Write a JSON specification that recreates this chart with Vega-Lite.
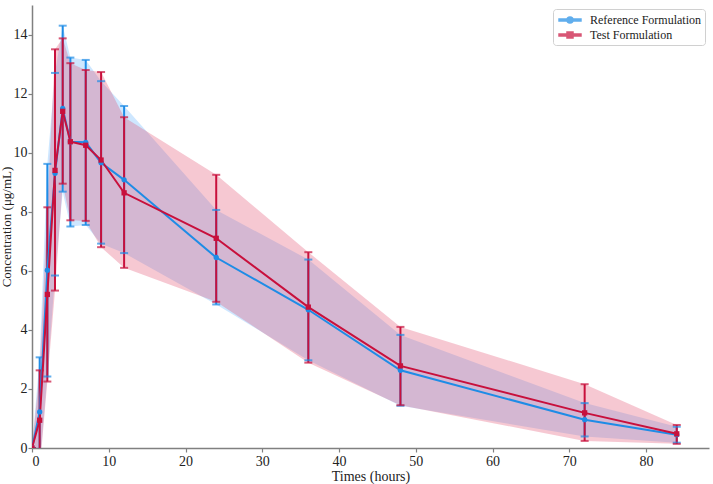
{
  "$schema": "https://vega.github.io/schema/vega-lite/v6.json",
  "width": 713,
  "height": 484,
  "autosize": {"type": "fit", "contains": "padding"},
  "padding": {"left": 0, "top": 5, "right": 4, "bottom": 1},
  "background": "white",
  "config": {
    "view": {"stroke": null},
    "font": "Liberation Serif",
    "axis": {
      "grid": false,
      "domainColor": "#808080",
      "domainWidth": 1.5,
      "tickColor": "#808080",
      "tickSize": 4,
      "tickWidth": 1.2,
      "labelFont": "Liberation Serif",
      "labelFontSize": 14,
      "labelColor": "#222222",
      "titleFont": "Liberation Serif",
      "titleFontSize": 14,
      "titleFontWeight": "normal",
      "titleColor": "#222222"
    }
  },
  "data": {
    "values": [
      {"series": "Reference Formulation", "time": 0, "mean": 0, "lo": 0, "hi": 0},
      {"series": "Reference Formulation", "time": 1, "mean": 1.22, "lo": -0.63, "hi": 3.07},
      {"series": "Reference Formulation", "time": 2, "mean": 6.02, "lo": 2.42, "hi": 9.62},
      {"series": "Reference Formulation", "time": 3, "mean": 9.3, "lo": 5.84, "hi": 12.7},
      {"series": "Reference Formulation", "time": 4, "mean": 11.5, "lo": 8.68, "hi": 14.3},
      {"series": "Reference Formulation", "time": 5, "mean": 10.37, "lo": 7.5, "hi": 13.22},
      {"series": "Reference Formulation", "time": 7, "mean": 10.35, "lo": 7.55, "hi": 13.14},
      {"series": "Reference Formulation", "time": 9, "mean": 9.66, "lo": 6.92, "hi": 12.42},
      {"series": "Reference Formulation", "time": 12, "mean": 9.08, "lo": 6.6, "hi": 11.58},
      {"series": "Reference Formulation", "time": 24, "mean": 6.45, "lo": 4.86, "hi": 8.06},
      {"series": "Reference Formulation", "time": 36, "mean": 4.68, "lo": 2.97, "hi": 6.38},
      {"series": "Reference Formulation", "time": 48, "mean": 2.63, "lo": 1.43, "hi": 3.83},
      {"series": "Reference Formulation", "time": 72, "mean": 0.96, "lo": 0.39, "hi": 1.52},
      {"series": "Reference Formulation", "time": 84, "mean": 0.45, "lo": 0.18, "hi": 0.72},
      {"series": "Test Formulation", "time": 0, "mean": 0, "lo": 0, "hi": 0},
      {"series": "Test Formulation", "time": 1, "mean": 0.94, "lo": -0.74, "hi": 2.63},
      {"series": "Test Formulation", "time": 2, "mean": 5.2, "lo": 2.25, "hi": 8.15},
      {"series": "Test Formulation", "time": 3, "mean": 9.4, "lo": 5.33, "hi": 13.5},
      {"series": "Test Formulation", "time": 4, "mean": 11.4, "lo": 8.95, "hi": 13.87},
      {"series": "Test Formulation", "time": 5, "mean": 10.37, "lo": 7.71, "hi": 13.03},
      {"series": "Test Formulation", "time": 7, "mean": 10.25, "lo": 7.69, "hi": 12.8},
      {"series": "Test Formulation", "time": 9, "mean": 9.75, "lo": 6.8, "hi": 12.73},
      {"series": "Test Formulation", "time": 12, "mean": 8.64, "lo": 6.1, "hi": 11.2},
      {"series": "Test Formulation", "time": 24, "mean": 7.1, "lo": 4.95, "hi": 9.25},
      {"series": "Test Formulation", "time": 36, "mean": 4.77, "lo": 2.89, "hi": 6.63},
      {"series": "Test Formulation", "time": 48, "mean": 2.78, "lo": 1.45, "hi": 4.1},
      {"series": "Test Formulation", "time": 72, "mean": 1.19, "lo": 0.24, "hi": 2.16},
      {"series": "Test Formulation", "time": 84, "mean": 0.48, "lo": 0.14, "hi": 0.78}
    ]
  },
  "encoding": {
    "x": {
      "field": "time",
      "type": "quantitative",
      "scale": {"domain": [0, 88.2], "nice": false, "zero": false},
      "axis": {"values": [0, 10, 20, 30, 40, 50, 60, 70, 80], "title": "Times (hours)", "titlePadding": 1, "labelPadding": 2}
    }
  },
  "layer": [
    {
      "transform": [{"filter": "datum.series === 'Reference Formulation'"}],
      "mark": {"type": "area", "clip": true, "fill": "#1E90FF", "fillOpacity": 0.22},
      "encoding": {
        "y": {"field": "lo", "type": "quantitative", "scale": {"domain": [0, 15], "nice": false}, "axis": {"values": [0, 2, 4, 6, 8, 10, 12, 14], "title": "Concentration (μg/mL)", "titlePadding": 0, "labelPadding": 1, "titleFontSize": 13}},
        "y2": {"field": "hi"}
      }
    },
    {
      "transform": [{"filter": "datum.series === 'Test Formulation'"}],
      "mark": {"type": "area", "clip": true, "fill": "#E14869", "fillOpacity": 0.3},
      "encoding": {
        "y": {"field": "lo", "type": "quantitative"},
        "y2": {"field": "hi"}
      }
    },
    {
      "mark": {"type": "rule", "clip": true, "strokeWidth": 2},
      "encoding": {
        "y": {"field": "lo", "type": "quantitative"},
        "y2": {"field": "hi"},
        "color": {"field": "series", "type": "nominal", "scale": {"domain": ["Reference Formulation", "Test Formulation"], "range": ["#1E8CE6", "#C8103C"]}}
      }
    },
    {
      "mark": {"type": "tick", "clip": true, "orient": "horizontal", "size": 8, "thickness": 2},
      "encoding": {
        "y": {"field": "lo", "type": "quantitative"},
        "color": {"field": "series", "type": "nominal"}
      }
    },
    {
      "mark": {"type": "tick", "clip": true, "orient": "horizontal", "size": 8, "thickness": 2},
      "encoding": {
        "y": {"field": "hi", "type": "quantitative"},
        "color": {"field": "series", "type": "nominal"}
      }
    },
    {
      "mark": {"type": "line", "strokeWidth": 2, "clip": true},
      "encoding": {
        "y": {"field": "mean", "type": "quantitative"},
        "color": {"field": "series", "type": "nominal"}
      }
    },
    {
      "mark": {"type": "point", "filled": true, "opacity": 1, "size": 1, "clip": true},
      "encoding": {
        "y": {"field": "mean", "type": "quantitative"},
        "color": {"field": "series", "type": "nominal"},
        "shape": {
          "field": "series",
          "type": "nominal",
          "scale": {"domain": ["Reference Formulation", "Test Formulation"], "range": [
            "M-1.83,-0.17H-0.48V0.17H-1.83Z M0,-0.5A0.5,0.5 0 1,1 0,0.5A0.5,0.5 0 1,1 0,-0.5Z M0.48,-0.17H1.83V0.17H0.48Z",
            "M-1.83,-0.17H-0.5V0.17H-1.83Z M-0.5,-0.5H0.5V0.5H-0.5Z M0.5,-0.17H1.83V0.17H0.5Z"
          ]},
          "legend": {
            "orient": "top-right",
            "offset": 4,
            "title": null,
            "symbolOpacity": 1,
            "symbolSize": 144,
            "symbolOffset": 6,
            "labelOffset": 13,
            "strokeColor": "#d0d0d0",
            "cornerRadius": 3,
            "padding": 4,
            "rowPadding": 2,
            "labelFontSize": 12,
            "labelFont": "Liberation Serif",
            "labelColor": "#222222"
          }
        }
      }
    },
    {
      "transform": [{"filter": "datum.series === 'Reference Formulation'"}],
      "mark": {"type": "point", "shape": "circle", "filled": true, "opacity": 1, "size": 28, "clip": true},
      "encoding": {
        "y": {"field": "mean", "type": "quantitative"},
        "color": {"field": "series", "type": "nominal"}
      }
    },
    {
      "transform": [{"filter": "datum.series === 'Test Formulation'"}],
      "mark": {"type": "point", "shape": "square", "filled": true, "opacity": 1, "size": 28, "clip": true},
      "encoding": {
        "y": {"field": "mean", "type": "quantitative"},
        "color": {"field": "series", "type": "nominal"}
      }
    }
  ]
}
